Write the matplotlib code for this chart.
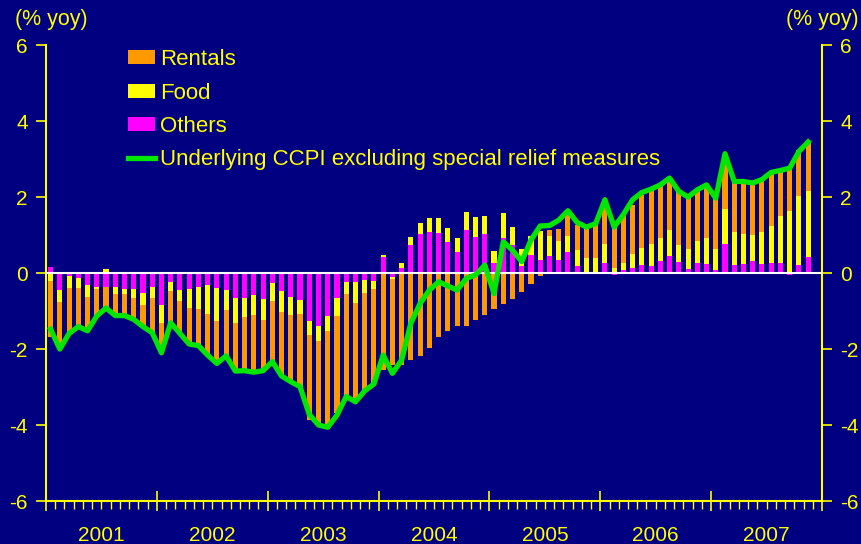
import numpy as np
import matplotlib.pyplot as plt

# Contributions to underlying CCPI (% yoy), monthly Jan 2001 - Nov 2007
years = ['2001', '2002', '2003', '2004', '2005', '2006', '2007']

rentals = [-1.47, -1.23, -1.20, -1.02, -0.88, -0.71, -0.55, -0.57, -0.57, -0.56,
           -0.56, -0.91, -0.79, -0.83, -0.85, -0.95, -0.96, -1.08, -1.12, -1.20,
           -1.26, -1.41, -1.50, -1.34, -1.60, -1.69, -1.76, -1.91, -2.24, -2.22,
           -2.47, -2.56, -2.78, -2.60, -2.56, -2.51, -2.55, -2.27, -2.42, -2.29,
           -2.18, -1.97, -1.68, -1.53, -1.39, -1.39, -1.24, -1.11, -0.95, -0.82,
           -0.68, -0.50, -0.29, -0.08, 0.15, 0.32, 0.55, 0.66, 0.76, 0.90,
           1.00, 1.09, 1.26, 1.29, 1.39, 1.42, 1.37, 1.34, 1.42, 1.38,
           1.34, 1.35, 1.40, 1.38, 1.32, 1.38, 1.36, 1.39, 1.40, 1.17,
           1.17, 1.23, 1.25]

food = [-0.21, -0.32, -0.32, -0.26, -0.32, -0.05, 0.10, -0.18, -0.13, -0.24,
        -0.32, -0.29, -0.47, -0.24, -0.29, -0.50, -0.58, -0.76, -0.87, -0.53,
        -0.66, -0.50, -0.53, -0.55, -0.47, -0.55, -0.47, -0.37, -0.37, -0.39,
        -0.39, -0.47, -0.32, -0.55, -0.34, -0.21, 0.05, -0.05, 0.13, 0.21,
        0.29, 0.37, 0.39, 0.37, 0.37, 0.47, 0.53, 0.47, 0.32, 0.66,
        0.47, 0.45, 0.50, 0.76, 0.53, 0.50, 0.42, 0.42, 0.36, 0.40,
        0.50, 0.14, 0.18, 0.37, 0.45, 0.58, 0.61, 0.66, 0.45, 0.53,
        0.58, 0.68, 0.53, 0.92, 0.87, 0.79, 0.68, 0.82, 0.97, 1.24,
        1.62, 1.80, 1.74]

others = [0.16, -0.45, -0.07, -0.13, -0.32, -0.37, -0.37, -0.37, -0.42, -0.42,
          -0.53, -0.37, -0.84, -0.24, -0.45, -0.42, -0.37, -0.32, -0.39, -0.45,
          -0.66, -0.66, -0.58, -0.68, -0.26, -0.47, -0.63, -0.71, -1.26, -1.39,
          -1.13, -0.66, -0.24, -0.24, -0.18, -0.20, 0.42, -0.10, 0.13, 0.74,
          1.03, 1.08, 1.05, 0.82, 0.55, 1.13, 0.95, 1.03, 0.26, 0.92,
          0.74, 0.18, 0.47, 0.34, 0.44, 0.35, 0.56, 0.19, 0.04, 0.00,
          0.27, -0.04, 0.09, 0.14, 0.22, 0.19, 0.32, 0.46, 0.30, 0.11,
          0.27, 0.25, 0.09, 0.77, 0.22, 0.25, 0.32, 0.25, 0.27, 0.27,
          -0.04, 0.22, 0.43]

underlying = [-1.48, -2.00, -1.59, -1.41, -1.52, -1.13, -0.92, -1.12, -1.12, -1.22,
              -1.41, -1.57, -2.10, -1.31, -1.59, -1.87, -1.91, -2.16, -2.38, -2.18,
              -2.58, -2.57, -2.61, -2.57, -2.33, -2.71, -2.86, -2.99, -3.72, -4.00,
              -4.06, -3.74, -3.25, -3.39, -3.10, -2.92, -2.16, -2.64, -2.29, -1.32,
              -0.80, -0.45, -0.23, -0.34, -0.45, -0.14, -0.05, 0.21, -0.54, 0.82,
              0.60, 0.30, 0.87, 1.24, 1.25, 1.39, 1.64, 1.33, 1.21, 1.30,
              1.93, 1.21, 1.54, 1.93, 2.12, 2.21, 2.32, 2.50, 2.15, 2.00,
              2.19, 2.32, 1.97, 3.14, 2.41, 2.41, 2.37, 2.46, 2.65, 2.70,
              2.76, 3.20, 3.45]

bg = '#000080'
fg = '#FFFF00'
plt.rcParams['font.family'] = ['Liberation Sans', 'DejaVu Sans']
plt.rcParams['axes.unicode_minus'] = False

fig = plt.figure(figsize=(8.61, 5.44), dpi=100, facecolor=bg)
ax = fig.add_axes([0.0534, 0.0790, 0.9013, 0.8382], facecolor=bg)

x = np.arange(len(rentals))
pos = np.zeros(len(x))
neg = np.zeros(len(x))
# stack order: others, food, rentals (positives up, negatives down)
for vals, col, lab in [(others, '#FF00FF', 'Others'),
                       (food, '#FFFF00', 'Food'),
                       (rentals, '#FF9900', 'Rentals')]:
    v = np.array(vals)
    base = np.where(v >= 0, pos, neg)
    ax.bar(x, v, 0.55, bottom=base, color=col, label=lab, zorder=2)
    pos = pos + np.where(v >= 0, v, 0)
    neg = neg + np.where(v < 0, v, 0)

ax.axhline(0, color='white', lw=1.5, zorder=3)
ax.plot(x, underlying, color='#00E600', lw=3.8, zorder=4,
        label='Underlying CCPI excluding special relief measures')

ax.set_xlim(-0.5, 83.5)
ax.set_ylim(-6, 6)
ax.set_yticks(range(-6, 7, 2))

# year boundaries as major ticks, month boundaries as minor ticks,
# year names on the mid-year minor tick
month_bounds = np.arange(-0.5, 84, 1)
minor_labels = [''] * len(month_bounds)
for k, yr in enumerate(years):
    minor_labels[12 * k + 6] = yr
ax.set_xticks(np.arange(-0.5, 84, 12), [''] * 8)
ax.set_xticks(month_bounds, minor_labels, minor=True)
ax.tick_params(axis='x', which='major', length=14, width=1.2, direction='inout', color=fg)
ax.tick_params(axis='x', which='minor', length=6, width=1, direction='out', color=fg,
               labelcolor=fg, labelsize=15, pad=12)

ax.tick_params(axis='y', length=7, width=1.2, pad=6, labelsize=15, colors=fg)
for s in ['left', 'right', 'bottom']:
    ax.spines[s].set_color(fg)
    ax.spines[s].set_linewidth(1.5)
ax.spines['top'].set_visible(False)

ax2 = ax.twinx()
ax2.set_ylim(-6, 6)
ax2.set_yticks(range(-6, 7, 2))
ax2.tick_params(axis='y', length=7, width=1.2, pad=6, labelsize=15, colors=fg)
for s in ax2.spines.values():
    s.set_visible(False)

fig.text(0.018, 0.965, '(% yoy)', color=fg, fontsize=15.5, va='center', ha='left')
fig.text(0.997, 0.965, '(% yoy)', color=fg, fontsize=15.5, va='center', ha='right')

h, l = ax.get_legend_handles_labels()
order = [3, 2, 1, 0]
leg = ax.legend([h[i] for i in order], [l[i] for i in order],
                loc='upper left', bbox_to_anchor=(0.08, 1.035), frameon=False,
                fontsize=16, labelcolor=fg, handlelength=1.2, handleheight=0.6,
                handletextpad=0.25, labelspacing=0.56)

fig.savefig('out.png', dpi=100, facecolor=bg)
